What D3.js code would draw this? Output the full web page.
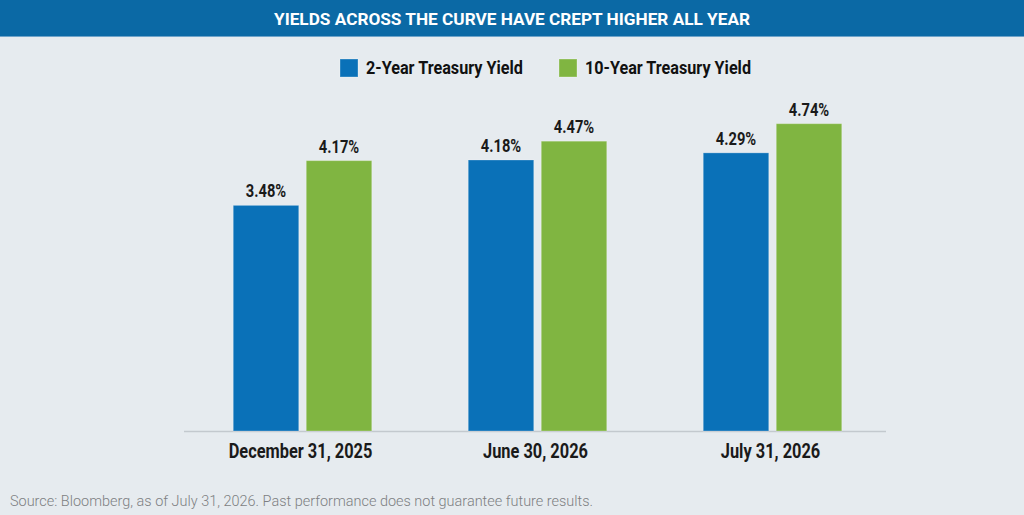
<!DOCTYPE html>
<html>
<head>
<meta charset="utf-8">
<script src="https://cdn.jsdelivr.net/npm/d3@7"></script>
<style>
  html, body { margin: 0; padding: 0; background: #e6ebef; }
  svg { display: block; font-family: Roboto, "Liberation Sans", sans-serif; }
</style>
</head>
<body>
<div id="chart"></div>
<script>
// Yields by date (percent)
const categories = ['December 31, 2025', 'June 30, 2026', 'July 31, 2026'];
const seriesNames = ['2-Year Treasury Yield', '10-Year Treasury Yield'];
const twoYear = [3.48, 4.18, 4.29];
const tenYear = [4.17, 4.47, 4.74];
const seriesColors = ['#0a71b8', '#80b541'];

const titleText = 'YIELDS ACROSS THE CURVE HAVE CREPT HIGHER ALL YEAR';
const sourceText = 'Source: Bloomberg, as of July 31, 2026. Past performance does not guarantee future results.';

const W = 1024, H = 515;
const baseline = 431;

const svg = d3.select('#chart').append('svg')
  .attr('width', W)
  .attr('height', H);

svg.append('rect')
  .attr('width', W).attr('height', H)
  .attr('fill', '#e6ebef');

// title band
svg.append('rect')
  .attr('width', W).attr('height', 36)
  .attr('fill', '#0b69a5');
svg.append('line')
  .attr('x1', 0).attr('x2', W)
  .attr('y1', 36.5).attr('y2', 36.5)
  .attr('stroke', '#6ea3c9').attr('stroke-width', 1);

svg.append('text')
  .attr('x', 274).attr('y', 25)
  .attr('textLength', 476)
  .attr('lengthAdjust', 'spacingAndGlyphs')
  .style('font-size', '17px')
  .style('font-weight', 700)
  .style('fill', '#fff')
  .text(titleText);

// squeeze text horizontally to mimic a condensed face
function condense(sel, k) {
  sel.each(function() {
    const w = this.getComputedTextLength();
    d3.select(this).attr('textLength', w * k).attr('lengthAdjust', 'spacingAndGlyphs');
  });
}

// legend
const legendX = [340, 559];
const legendW = [157, 166];
const legend = svg.append('g');
seriesNames.forEach((name, i) => {
  legend.append('rect')
    .attr('x', legendX[i]).attr('y', 59)
    .attr('width', 18).attr('height', 18)
    .attr('fill', seriesColors[i])
    .attr('stroke', 'rgba(255,255,255,0.3)');
  legend.append('text')
    .attr('x', legendX[i] + 26).attr('y', 74)
    .attr('textLength', legendW[i])
    .attr('lengthAdjust', 'spacingAndGlyphs')
    .style('font-size', '18.5px')
    .style('font-weight', 700)
    .style('fill', '#111')
    .text(name);
});

// scales
const x = d3.scaleBand()
  .domain(categories)
  .range([185, 890])
  .padding(0);

const xInner = d3.scaleBand()
  .domain(seriesNames)
  .range([-69.25, 69.25])
  .paddingInner(0.103);

const y = d3.scaleLinear()
  .domain([0, 6])
  .range([baseline, baseline - 389]);

const rows = categories.map((c, i) => ({
  category: c,
  values: [
    { series: seriesNames[0], value: twoYear[i], color: seriesColors[0] },
    { series: seriesNames[1], value: tenYear[i], color: seriesColors[1] }
  ]
}));

// axis line
svg.append('line')
  .attr('x1', 184).attr('x2', 886)
  .attr('y1', baseline + 0.5).attr('y2', baseline + 0.5)
  .attr('stroke', '#c3c9ce').attr('stroke-width', 1.5);

const groups = svg.selectAll('.group')
  .data(rows)
  .enter()
  .append('g')
  .attr('class', 'group')
  .attr('transform', d => `translate(${x(d.category) + x.bandwidth() / 2},0)`);

groups.selectAll('rect')
  .data(d => d.values)
  .enter()
  .append('rect')
  .attr('x', d => xInner(d.series))
  .attr('y', d => y(d.value))
  .attr('width', xInner.bandwidth())
  .attr('height', d => baseline - y(d.value))
  .attr('fill', d => d.color)
  .attr('stroke', 'rgba(255,255,255,0.25)')
  .attr('stroke-width', 1);

const valueLabels = groups.selectAll('.value')
  .data(d => d.values)
  .enter()
  .append('text')
  .attr('class', 'value')
  .attr('x', d => xInner(d.series) + xInner.bandwidth() / 2)
  .attr('y', d => y(d.value) - 8)
  .attr('text-anchor', 'middle')
  .style('font-size', '17.5px')
  .style('font-weight', 700)
  .style('fill', '#1a1a1a')
  .text(d => d.value.toFixed(2) + '%');
condense(valueLabels, 0.84);

// category labels
const xAxis = d3.axisBottom(x).tickSize(0).tickPadding(0);
const axisG = svg.append('g')
  .attr('transform', `translate(0,${baseline})`)
  .call(xAxis);
axisG.select('.domain').remove();
const catLabels = axisG.selectAll('.tick text')
  .attr('y', 26.5)
  .attr('dy', 0)
  .attr('dx', -2)
  .style('font-family', 'Roboto, sans-serif')
  .style('font-size', '19.5px')
  .style('font-weight', 700)
  .style('fill', '#1a1a1a');
condense(catLabels, 0.84);

// source note
svg.append('text')
  .attr('x', 10).attr('y', 506)
  .attr('textLength', 583)
  .attr('lengthAdjust', 'spacingAndGlyphs')
  .style('font-size', '15.5px')
  .style('font-weight', 300)
  .style('fill', '#7d7f82')
  .text(sourceText);
</script>
</body>
</html>
